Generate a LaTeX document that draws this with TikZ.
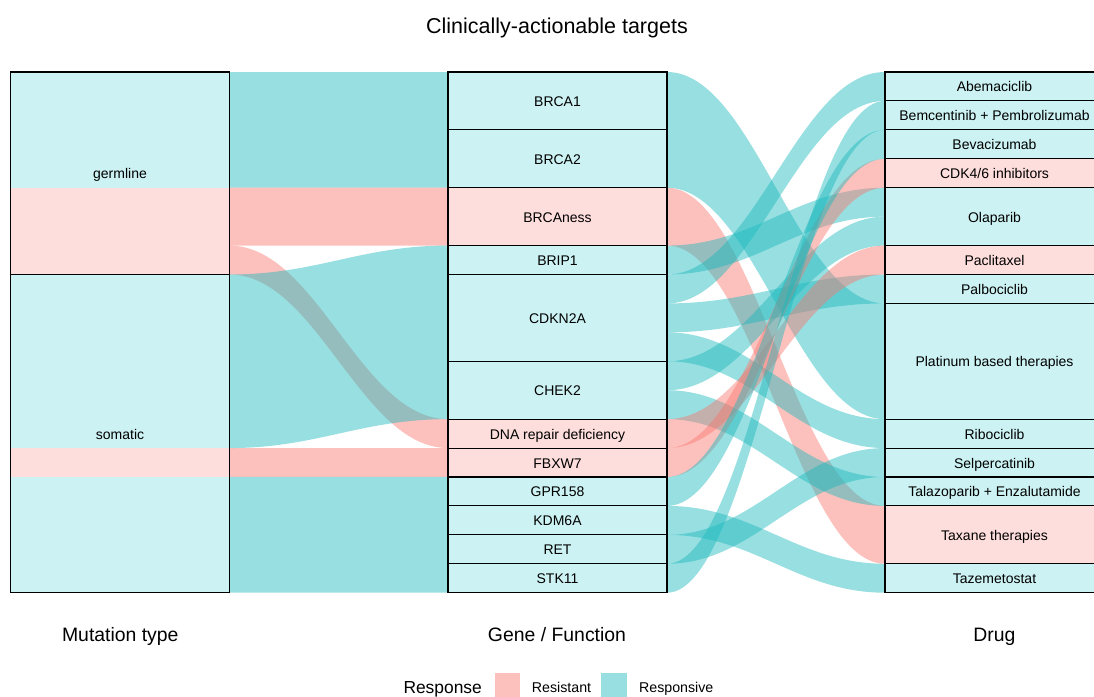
\documentclass[tikz,border=0pt]{standalone}
\usepackage{fontspec}
\setmainfont{Liberation Sans}
\definecolor{rred}{HTML}{F8766D}
\definecolor{rblue}{HTML}{00BFC4}
\definecolor{fblue}{HTML}{1AB8BC}
\colorlet{sblue}{rblue!20!white}
\colorlet{spink}{rred!24!white}
\newcommand\Yu[1]{72+(#1)*28.928}
% x0, top0, bot0, x1, top1, bot1, colour (in units)
\newcommand\flowband[7]{%
  \fill[#7,fill opacity=0.45] (#1,{\Yu{#2}})
    .. controls ({#1+0.4*(#4-#1)},{\Yu{#2}}) and ({#4-0.4*(#4-#1)},{\Yu{#5}}) .. (#4,{\Yu{#5}})
    -- (#4,{\Yu{#6}})
    .. controls ({#4-0.4*(#4-#1)},{\Yu{#6}}) and ({#1+0.4*(#4-#1)},{\Yu{#3}}) .. (#1,{\Yu{#3}}) -- cycle;}
% name, x, from, to, fill, label
\newcommand\stratum[6]{%
  \pgfmathsetmacro\sh{(#4-#3)*28.928}%
  \node[stratbox, fill=#5, minimum height=\sh pt] (#1) at (#2,{\Yu{(#3+#4)/2}}) {#6};}
\begin{document}
\begin{tikzpicture}[x=1pt,y=-1pt,
  stratbox/.style={draw=black, line width=1.1pt, minimum width=219pt, inner sep=0pt,
    text height=11pt, text depth=0pt, font=\fontsize{14}{16}\selectfont},
  axlabel/.style={font=\fontsize{19.4}{22}\selectfont, anchor=base, inner sep=0pt},
  legtext/.style={font=\fontsize{14.2}{16}\selectfont, anchor=base west, inner sep=0pt},
  legkey/.style={fill opacity=0.45}]
\useasboundingbox (0,0) rectangle (1094,696);
\clip (0,0) rectangle (1094,696);

% ---- flows: mutation type -> gene
\flowband{229.5}{0}{4}{448}{0}{4}{fblue}
\flowband{229.5}{4}{6}{448}{4}{6}{rred}
\flowband{229.5}{6}{7}{448}{12}{13}{rred}
\flowband{229.5}{7}{13}{448}{6}{12}{fblue}
\flowband{229.5}{13}{14}{448}{13}{14}{rred}
\flowband{229.5}{14}{18}{448}{14}{18}{fblue}

% ---- flows: gene -> drug
\flowband{667}{0}{4}{885}{8}{12}{fblue}
\flowband{667}{4}{6}{885}{15}{17}{rred}
\flowband{667}{6}{7}{885}{4}{5}{fblue}
\flowband{667}{7}{8}{885}{0}{1}{fblue}
\flowband{667}{8}{9}{885}{7}{8}{fblue}
\flowband{667}{9}{10}{885}{12}{13}{fblue}
\flowband{667}{10}{11}{885}{5}{6}{fblue}
\flowband{667}{11}{12}{885}{14}{15}{fblue}
\flowband{667}{12}{13}{885}{6}{7}{rred}
\flowband{667}{13}{14}{885}{3}{4}{rred}
\flowband{667}{14}{15}{885}{2}{3}{fblue}
\flowband{667}{15}{16}{885}{17}{18}{fblue}
\flowband{667}{16}{17}{885}{13}{14}{fblue}
\flowband{667}{17}{18}{885}{1}{2}{fblue}

% ---- left strata
\fill[sblue] (10.5,{\Yu{0}}) rectangle (229.5,{\Yu{4}});
\fill[spink] (10.5,{\Yu{4}}) rectangle (229.5,{\Yu{7}});
\fill[sblue] (10.5,{\Yu{7}}) rectangle (229.5,{\Yu{13}});
\fill[spink] (10.5,{\Yu{13}}) rectangle (229.5,{\Yu{14}});
\fill[sblue] (10.5,{\Yu{14}}) rectangle (229.5,{\Yu{18}});
\stratum{germline}{120}{0}{7}{none}{germline}
\stratum{somatic}{120}{7}{18}{none}{somatic}

% ---- middle strata
\stratum{brca1}{557.5}{0}{2}{sblue}{BRCA1}
\stratum{brca2}{557.5}{2}{4}{sblue}{BRCA2}
\stratum{brcaness}{557.5}{4}{6}{spink}{BRCAness}
\stratum{brip1}{557.5}{6}{7}{sblue}{BRIP1}
\stratum{cdkn2a}{557.5}{7}{10}{sblue}{CDKN2A}
\stratum{chek2}{557.5}{10}{12}{sblue}{CHEK2}
\stratum{dnarep}{557.5}{12}{13}{spink}{DNA repair deficiency}
\stratum{fbxw7}{557.5}{13}{14}{spink}{FBXW7}
\stratum{gpr158}{557.5}{14}{15}{sblue}{GPR158}
\stratum{kdm6a}{557.5}{15}{16}{sblue}{KDM6A}
\stratum{ret}{557.5}{16}{17}{sblue}{RET}
\stratum{stk11}{557.5}{17}{18}{sblue}{STK11}

% ---- right strata
\stratum{abema}{994.5}{0}{1}{sblue}{Abemaciclib}
\stratum{bemcen}{994.5}{1}{2}{sblue}{Bemcentinib + Pembrolizumab}
\stratum{bevaci}{994.5}{2}{3}{sblue}{Bevacizumab}
\stratum{cdk46}{994.5}{3}{4}{spink}{CDK4/6 inhibitors}
\stratum{olap}{994.5}{4}{6}{sblue}{Olaparib}
\stratum{paclit}{994.5}{6}{7}{spink}{Paclitaxel}
\stratum{palbo}{994.5}{7}{8}{sblue}{Palbociclib}
\stratum{platin}{994.5}{8}{12}{sblue}{Platinum based therapies}
\stratum{ribo}{994.5}{12}{13}{sblue}{Ribociclib}
\stratum{selper}{994.5}{13}{14}{sblue}{Selpercatinib}
\stratum{talaz}{994.5}{14}{15}{sblue}{Talazoparib + Enzalutamide}
\stratum{taxane}{994.5}{15}{17}{spink}{Taxane therapies}
\stratum{tazem}{994.5}{17}{18}{sblue}{Tazemetostat}

% ---- titles
\node[font=\fontsize{21.5}{24}\selectfont, anchor=base, inner sep=0pt] (title) at (557,33) {Clinically-actionable targets};
\node[axlabel] (ax1) at (120.3,641.5) {Mutation type};
\node[axlabel] (ax2) at (557,641.5) {Gene / Function};
\node[axlabel] (ax3) at (994.5,641.5) {Drug};

% ---- legend
\node[font=\fontsize{17.4}{20}\selectfont, anchor=base west, inner sep=0pt] (legtitle) at (403.3,693.3) {Response};
\fill[rred, legkey] (495,673.3) rectangle (520.3,698.6);
\node[legtext] (legres) at (531.7,692.3) {Resistant};
\fill[fblue, legkey] (601.3,673.3) rectangle (626.6,698.6);
\node[legtext] (legresp) at (639,692.3) {Responsive};
\end{tikzpicture}
\end{document}
